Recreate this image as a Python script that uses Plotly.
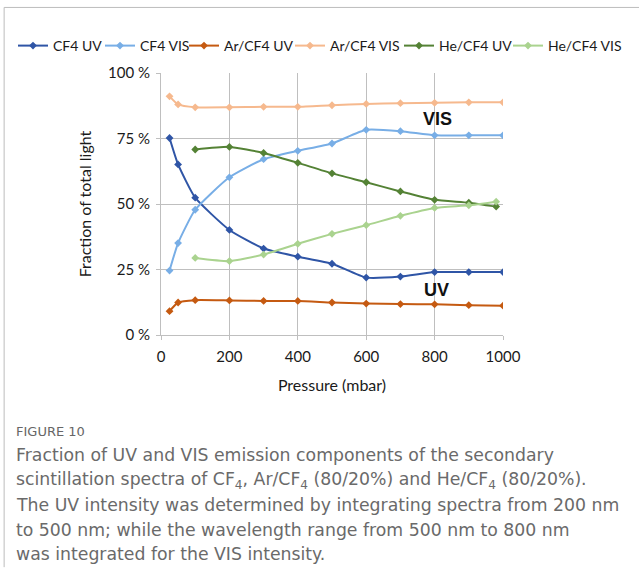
import plotly.graph_objects as go

# Pressure points (mbar)
pressure_cf4 = [25, 50, 100, 200, 300, 400, 500, 600, 700, 800, 900, 1000]
pressure_ar = [25, 50, 100, 200, 300, 400, 500, 600, 700, 800, 900, 1000]
pressure_he = [100, 200, 300, 400, 500, 600, 700, 800, 900, 980]

# Fraction of total light
cf4_uv = [0.752, 0.651, 0.524, 0.401, 0.330, 0.299, 0.272, 0.219, 0.223, 0.240, 0.240, 0.240]
cf4_vis = [0.246, 0.351, 0.478, 0.602, 0.671, 0.703, 0.731, 0.783, 0.778, 0.762, 0.762, 0.762]
ar_uv = [0.091, 0.124, 0.133, 0.132, 0.130, 0.130, 0.124, 0.120, 0.118, 0.117, 0.114, 0.112]
ar_vis = [0.911, 0.880, 0.869, 0.869, 0.871, 0.871, 0.877, 0.882, 0.885, 0.886, 0.888, 0.888]
he_uv = [0.708, 0.718, 0.695, 0.657, 0.617, 0.583, 0.548, 0.516, 0.505, 0.490]
he_vis = [0.294, 0.282, 0.307, 0.348, 0.386, 0.419, 0.455, 0.485, 0.495, 0.509]

y_ticks = [0, 0.25, 0.5, 0.75, 1.0]
y_tick_labels = ["0 %", "25 %", "50 %", "75 %", "100 %"]
x_ticks = [0, 200, 400, 600, 800, 1000]

series = [
    ("CF4 UV", pressure_cf4, cf4_uv, "#2F55A6"),
    ("CF4 VIS", pressure_cf4, cf4_vis, "#78AEE6"),
    ("Ar/CF4 UV", pressure_ar, ar_uv, "#C55A11"),
    ("Ar/CF4 VIS", pressure_ar, ar_vis, "#F6B98E"),
    ("He/CF4 UV", pressure_he, he_uv, "#548235"),
    ("He/CF4 VIS", pressure_he, he_vis, "#AAD38F"),
]

# Pixel geometry of the plotting area
W, H = 639, 575
L, R, T, B = 161, 503.3, 72.7, 335.3
pw, ph = R - L, B - T


def px(xp):
    return (xp - L) / pw


def py(yp):
    return (B - yp) / ph


label_font = dict(family="Lato, Carlito, sans-serif", size=15, color="#1a1a1a")
title_font = dict(family="Lato, Carlito, sans-serif", size=16, color="#1a1a1a")
legend_font = dict(family="Lato, Carlito, sans-serif", size=14, color="#1a1a1a")

# Left edges (px) of the legend entries along the top row
legend_left = [13, 100, 184, 290, 399, 508]
legend_ids = ["legend", "legend2", "legend3", "legend4", "legend5", "legend6"]

fig = go.Figure()
for (name, x, y, color), lid in zip(series, legend_ids):
    fig.add_trace(go.Scatter(
        x=x, y=y, name=name, mode="lines+markers", legend=lid,
        line=dict(color=color, width=2, shape="spline", smoothing=0.5),
        marker=dict(symbol="diamond", size=6, color=color),
    ))

legend_layout = {}
for lid, left in zip(legend_ids, legend_left):
    legend_layout[lid] = dict(
        orientation="h", xref="container", yref="container",
        x=left / W, y=1 - 46 / H, xanchor="left", yanchor="middle",
        font=legend_font, itemwidth=30, bgcolor="rgba(0,0,0,0)",
    )

fig.update_layout(
    width=W, height=H,
    margin=dict(l=L, r=W - R, t=T, b=H - B, pad=0, autoexpand=False),
    paper_bgcolor="white", plot_bgcolor="white",
    showlegend=True,
    xaxis=dict(
        range=[0, 1000], tickvals=x_ticks, showgrid=True, gridcolor="#BFBFBF",
        gridwidth=1, zeroline=False, showline=True, linecolor="#BFBFBF",
        ticks="outside", ticklen=4, tickcolor="#BFBFBF", tickfont=label_font,
        ticklabelstandoff=4,
        title=dict(text="Pressure (mbar)", font=title_font, standoff=15),
    ),
    yaxis=dict(
        range=[0, 1], tickvals=y_ticks, ticktext=y_tick_labels, showgrid=True,
        gridcolor="#BFBFBF", gridwidth=1, zeroline=False, showline=True,
        linecolor="#BFBFBF", ticks="outside", ticklen=4, tickcolor="#BFBFBF",
        tickfont=label_font, ticklabelstandoff=3,
        title=dict(text="Fraction of total light", font=title_font, standoff=12),
    ),
    **legend_layout,
)

# Region labels
fig.add_annotation(x=809, y=0.826, text="<b>VIS</b>", showarrow=False,
                   font=dict(family="Liberation Sans, Arial", size=18, color="#111"))
fig.add_annotation(x=806, y=0.172, text="<b>UV</b>", showarrow=False,
                   font=dict(family="Liberation Sans, Arial", size=18, color="#111"))

# Caption
cap_font = dict(family="DejaVu Sans, sans-serif", size=17.3, color="#6a6a6a")
fig.add_annotation(xref="paper", yref="paper", x=px(14), y=py(432),
                   xanchor="left", yanchor="middle", showarrow=False,
                   text="FIGURE 10",
                   font=dict(family="DejaVu Sans, sans-serif", size=13, color="#666666"))
caption_lines = [
    "Fraction of UV and VIS emission components of the secondary",
    "scintillation spectra of CF<sub>4</sub>, Ar/CF<sub>4</sub> (80/20%) and He/CF<sub>4</sub> (80/20%).",
    "The UV intensity was determined by integrating spectra from 200 nm",
    "to 500 nm; while the wavelength range from 500 nm to 800 nm",
    "was integrated for the VIS intensity.",
]
for i, line in enumerate(caption_lines):
    fig.add_annotation(xref="paper", yref="paper", x=px(14), y=py(456 + i * 24.8),
                       xanchor="left", yanchor="middle", showarrow=False,
                       text=line, font=cap_font)

# Frame around the figure panel
fig.add_shape(type="line", xref="paper", yref="paper",
              x0=px(4), x1=px(W + 5), y0=py(7), y1=py(7),
              line=dict(color="#BDBDBD", width=1))
fig.add_shape(type="line", xref="paper", yref="paper",
              x0=px(4), x1=px(4), y0=py(7), y1=py(568),
              line=dict(color="#BDBDBD", width=1))

fig.write_html("out.html")
